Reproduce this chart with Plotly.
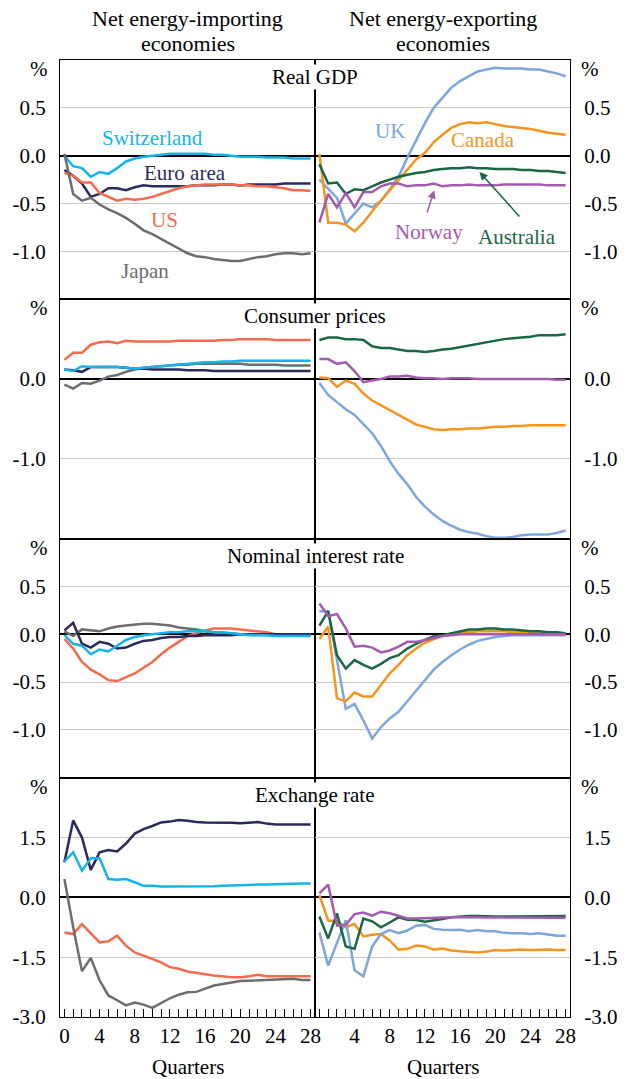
import plotly.graph_objects as go
from plotly.subplots import make_subplots

quarters = list(range(29))

# Real GDP
gdp_che = [0.0, -0.11, -0.13, -0.22, -0.17, -0.19, -0.13, -0.06, -0.03, -0.01, 0.0, 0.01, 0.02, 0.02, 0.02, 0.02, 0.02, 0.01, 0.01, 0.0, -0.01, -0.01, -0.01, -0.02, -0.02, -0.02, -0.03, -0.03, -0.03]
gdp_ea = [-0.15, -0.21, -0.29, -0.43, -0.40, -0.34, -0.34, -0.36, -0.33, -0.31, -0.32, -0.32, -0.32, -0.32, -0.32, -0.31, -0.31, -0.31, -0.30, -0.30, -0.31, -0.30, -0.30, -0.30, -0.30, -0.29, -0.29, -0.29, -0.29]
gdp_us = [-0.18, -0.21, -0.28, -0.28, -0.39, -0.43, -0.47, -0.45, -0.46, -0.45, -0.43, -0.40, -0.37, -0.34, -0.32, -0.31, -0.30, -0.30, -0.30, -0.30, -0.31, -0.31, -0.32, -0.32, -0.33, -0.34, -0.36, -0.36, -0.37]
gdp_jpn = [0.02, -0.40, -0.47, -0.44, -0.51, -0.56, -0.60, -0.65, -0.71, -0.78, -0.82, -0.87, -0.92, -0.97, -1.02, -1.05, -1.06, -1.08, -1.09, -1.10, -1.10, -1.08, -1.06, -1.05, -1.03, -1.02, -1.02, -1.03, -1.02]
gdp_uk = [-0.25, -0.35, -0.44, -0.71, -0.61, -0.50, -0.54, -0.47, -0.35, -0.22, -0.02, 0.16, 0.34, 0.50, 0.61, 0.71, 0.78, 0.83, 0.88, 0.90, 0.92, 0.91, 0.91, 0.91, 0.90, 0.90, 0.88, 0.86, 0.83]
gdp_can = [0.02, -0.70, -0.70, -0.72, -0.79, -0.70, -0.58, -0.47, -0.37, -0.26, -0.14, -0.04, 0.03, 0.14, 0.22, 0.29, 0.33, 0.35, 0.34, 0.35, 0.33, 0.31, 0.30, 0.29, 0.28, 0.26, 0.24, 0.23, 0.22]
gdp_aus = [-0.09, -0.29, -0.28, -0.40, -0.35, -0.36, -0.32, -0.28, -0.25, -0.22, -0.20, -0.18, -0.17, -0.15, -0.14, -0.13, -0.13, -0.12, -0.13, -0.13, -0.14, -0.14, -0.14, -0.15, -0.15, -0.16, -0.16, -0.17, -0.18]
gdp_nor = [-0.70, -0.40, -0.54, -0.39, -0.54, -0.38, -0.38, -0.32, -0.29, -0.29, -0.32, -0.31, -0.31, -0.29, -0.32, -0.31, -0.31, -0.30, -0.31, -0.31, -0.31, -0.30, -0.30, -0.30, -0.30, -0.30, -0.31, -0.31, -0.31]

# Consumer prices
cpi_us = [0.24, 0.33, 0.33, 0.43, 0.46, 0.47, 0.45, 0.48, 0.47, 0.47, 0.47, 0.47, 0.47, 0.48, 0.48, 0.48, 0.48, 0.48, 0.49, 0.49, 0.50, 0.50, 0.50, 0.50, 0.49, 0.49, 0.49, 0.49, 0.49]
cpi_che = [0.12, 0.10, 0.16, 0.15, 0.15, 0.15, 0.15, 0.14, 0.13, 0.14, 0.15, 0.16, 0.17, 0.18, 0.19, 0.20, 0.21, 0.21, 0.22, 0.22, 0.23, 0.23, 0.23, 0.23, 0.23, 0.23, 0.23, 0.23, 0.23]
cpi_ea = [0.12, 0.11, 0.09, 0.15, 0.15, 0.15, 0.15, 0.14, 0.13, 0.13, 0.12, 0.12, 0.12, 0.12, 0.11, 0.11, 0.11, 0.10, 0.10, 0.10, 0.10, 0.10, 0.10, 0.10, 0.10, 0.10, 0.10, 0.10, 0.10]
cpi_jpn = [-0.07, -0.12, -0.05, -0.06, -0.02, 0.03, 0.05, 0.09, 0.12, 0.14, 0.15, 0.16, 0.17, 0.18, 0.18, 0.19, 0.19, 0.19, 0.19, 0.19, 0.19, 0.18, 0.18, 0.18, 0.18, 0.17, 0.17, 0.17, 0.17]
cpi_aus = [0.49, 0.52, 0.52, 0.50, 0.50, 0.49, 0.41, 0.39, 0.39, 0.37, 0.35, 0.35, 0.34, 0.35, 0.37, 0.38, 0.40, 0.42, 0.44, 0.46, 0.48, 0.50, 0.51, 0.52, 0.53, 0.55, 0.55, 0.55, 0.56]
cpi_nor = [0.25, 0.25, 0.19, 0.21, 0.10, -0.04, -0.02, 0.00, 0.03, 0.03, 0.04, 0.02, 0.01, 0.01, 0.00, 0.01, 0.01, 0.01, 0.00, 0.00, 0.00, 0.00, 0.00, 0.00, 0.00, 0.00, 0.00, -0.01, -0.01]
cpi_can = [0.02, 0.01, -0.10, -0.02, -0.06, -0.18, -0.27, -0.33, -0.39, -0.45, -0.50, -0.57, -0.60, -0.63, -0.64, -0.63, -0.63, -0.62, -0.62, -0.61, -0.60, -0.60, -0.59, -0.59, -0.58, -0.58, -0.58, -0.58, -0.58]
cpi_uk = [-0.05, -0.20, -0.29, -0.38, -0.45, -0.57, -0.68, -0.84, -1.03, -1.19, -1.32, -1.48, -1.60, -1.70, -1.78, -1.84, -1.89, -1.92, -1.94, -1.97, -1.99, -1.99, -1.98, -1.96, -1.95, -1.95, -1.95, -1.93, -1.90]

# Nominal interest rate
ir_us = [-0.05, -0.15, -0.29, -0.37, -0.42, -0.48, -0.49, -0.45, -0.41, -0.35, -0.29, -0.21, -0.14, -0.08, -0.02, 0.01, 0.04, 0.06, 0.06, 0.06, 0.05, 0.04, 0.03, 0.02, 0.0, 0.0, 0.0, 0.0, 0.0]
ir_ea = [0.04, 0.12, -0.10, -0.14, -0.08, -0.10, -0.15, -0.14, -0.10, -0.07, -0.06, -0.04, -0.03, -0.03, -0.02, -0.02, -0.01, -0.01, -0.01, -0.01, 0.0, 0.0, 0.0, 0.0, 0.0, 0.0, 0.0, 0.0, 0.0]
ir_che = [-0.01, -0.10, -0.12, -0.21, -0.16, -0.18, -0.12, -0.06, -0.03, -0.01, 0.0, 0.01, 0.02, 0.02, 0.03, 0.03, 0.03, 0.02, 0.02, 0.01, 0.0, -0.01, -0.01, -0.01, -0.02, -0.02, -0.02, -0.02, -0.02]
ir_jpn = [0.03, -0.02, 0.05, 0.04, 0.03, 0.06, 0.08, 0.09, 0.10, 0.11, 0.11, 0.10, 0.09, 0.07, 0.06, 0.05, 0.03, 0.02, 0.01, 0.01, 0.0, 0.0, 0.0, 0.0, 0.0, 0.0, 0.0, 0.0, 0.0]
ir_nor = [0.32, 0.19, 0.21, 0.06, -0.13, -0.12, -0.14, -0.19, -0.17, -0.13, -0.08, -0.08, -0.06, -0.04, -0.02, -0.01, 0.0, 0.0, 0.0, 0.0, 0.0, 0.0, 0.0, 0.0, 0.0, 0.0, 0.0, 0.0, 0.0]
ir_aus = [0.09, 0.24, -0.22, -0.36, -0.27, -0.32, -0.36, -0.31, -0.25, -0.22, -0.15, -0.10, -0.06, -0.02, -0.01, 0.01, 0.03, 0.05, 0.05, 0.06, 0.06, 0.05, 0.05, 0.04, 0.03, 0.03, 0.02, 0.02, 0.01]
ir_can = [-0.05, 0.08, -0.67, -0.70, -0.61, -0.65, -0.65, -0.53, -0.41, -0.32, -0.22, -0.15, -0.09, -0.05, -0.02, 0.0, 0.02, 0.02, 0.03, 0.03, 0.03, 0.03, 0.02, 0.02, 0.01, 0.01, 0.0, 0.0, 0.0]
ir_uk = [0.24, 0.24, -0.27, -0.78, -0.73, -0.90, -1.09, -0.97, -0.88, -0.81, -0.70, -0.59, -0.47, -0.37, -0.29, -0.22, -0.16, -0.11, -0.07, -0.05, -0.03, -0.02, -0.01, -0.01, -0.01, -0.01, -0.01, -0.01, -0.01]

# Exchange rate
fx_ea = [0.88, 1.93, 1.50, 0.69, 1.13, 1.19, 1.15, 1.35, 1.60, 1.71, 1.79, 1.88, 1.90, 1.94, 1.92, 1.89, 1.88, 1.88, 1.88, 1.87, 1.86, 1.87, 1.89, 1.85, 1.83, 1.83, 1.83, 1.83, 1.83]
fx_che = [0.90, 1.13, 0.67, 0.98, 0.98, 0.46, 0.44, 0.46, 0.38, 0.29, 0.29, 0.27, 0.27, 0.27, 0.28, 0.28, 0.28, 0.28, 0.29, 0.30, 0.31, 0.31, 0.32, 0.32, 0.33, 0.34, 0.35, 0.35, 0.35]
fx_us = [-0.88, -0.92, -0.67, -0.89, -1.13, -1.10, -0.96, -1.21, -1.38, -1.46, -1.54, -1.63, -1.75, -1.79, -1.86, -1.90, -1.93, -1.96, -1.98, -2.00, -2.00, -1.98, -1.94, -1.98, -1.98, -1.98, -1.97, -1.97, -1.98]
fx_jpn = [0.46, -0.75, -1.85, -1.52, -2.08, -2.46, -2.58, -2.71, -2.64, -2.69, -2.77, -2.64, -2.53, -2.44, -2.38, -2.37, -2.28, -2.21, -2.17, -2.13, -2.10, -2.09, -2.08, -2.07, -2.06, -2.05, -2.04, -2.07, -2.07]
fx_nor = [0.10, 0.32, -0.71, -0.69, -0.42, -0.38, -0.46, -0.36, -0.40, -0.46, -0.53, -0.53, -0.52, -0.51, -0.50, -0.50, -0.50, -0.50, -0.50, -0.50, -0.50, -0.50, -0.50, -0.50, -0.50, -0.50, -0.50, -0.51, -0.52]
fx_aus = [-0.48, -1.03, -0.40, -1.23, -1.29, -0.53, -0.60, -0.75, -0.63, -0.50, -0.56, -0.57, -0.61, -0.58, -0.54, -0.50, -0.48, -0.47, -0.47, -0.48, -0.48, -0.48, -0.48, -0.48, -0.48, -0.48, -0.48, -0.47, -0.47]
fx_can = [0.06, -0.58, -0.60, -0.75, -0.67, -0.98, -0.94, -0.92, -1.08, -1.31, -1.29, -1.21, -1.23, -1.31, -1.28, -1.33, -1.35, -1.36, -1.38, -1.36, -1.32, -1.33, -1.32, -1.31, -1.32, -1.31, -1.31, -1.32, -1.32]
fx_uk = [-0.88, -1.71, -1.14, -0.57, -1.83, -1.98, -1.23, -0.92, -0.82, -0.90, -0.83, -0.71, -0.69, -0.79, -0.81, -0.82, -0.81, -0.85, -0.82, -0.85, -0.85, -0.89, -0.90, -0.90, -0.92, -0.90, -0.93, -0.96, -0.96]

panel_titles = ["Real GDP", "Consumer prices", "Nominal interest rate", "Exchange rate"]
y_ranges = [[-1.5, 1.0], [-2.0, 1.0], [-1.5, 1.0], [-3.0, 3.0]]
y_ticks = [[0.5, 0.0, -0.5, -1.0], [0.0, -1.0], [0.5, 0.0, -0.5, -1.0], [1.5, 0.0, -1.5, -3.0]]

colors = {
    "Switzerland": "#14B4E9",
    "Euro area": "#2B2A5E",
    "US": "#F26B4F",
    "Japan": "#6D6D6D",
    "UK": "#7EA6DA",
    "Canada": "#F7941E",
    "Norway": "#A35BAF",
    "Australia": "#1B6645",
}

left = [
    {"Switzerland": gdp_che, "Euro area": gdp_ea, "US": gdp_us, "Japan": gdp_jpn},
    {"Japan": cpi_jpn, "Euro area": cpi_ea, "Switzerland": cpi_che, "US": cpi_us},
    {"Japan": ir_jpn, "US": ir_us, "Euro area": ir_ea, "Switzerland": ir_che},
    {"Euro area": fx_ea, "Switzerland": fx_che, "US": fx_us, "Japan": fx_jpn},
]
right = [
    {"UK": gdp_uk, "Canada": gdp_can, "Australia": gdp_aus, "Norway": gdp_nor},
    {"Australia": cpi_aus, "Norway": cpi_nor, "Canada": cpi_can, "UK": cpi_uk},
    {"UK": ir_uk, "Canada": ir_can, "Australia": ir_aus, "Norway": ir_nor},
    {"Canada": fx_can, "UK": fx_uk, "Australia": fx_aus, "Norway": fx_nor},
]

FONT = "Liberation Serif, Times New Roman, serif"

fig = make_subplots(rows=4, cols=2, horizontal_spacing=0, vertical_spacing=0)

for r in range(4):
    for c, group in enumerate([left[r], right[r]]):
        for name, vals in group.items():
            fig.add_trace(
                go.Scatter(x=quarters, y=vals, mode="lines", name=name,
                           line=dict(color=colors[name], width=2.5),
                           showlegend=False, hoverinfo="skip"),
                row=r + 1, col=c + 1,
            )

for r in range(4):
    for c in range(2):
        bottom = r == 3
        if bottom:
            ttext = [str(q) if q % 4 == 0 and not (c == 1 and q == 0) else "" for q in quarters]
        else:
            ttext = ["" for q in quarters]
        fig.update_xaxes(
            range=[-0.5, 28.5], tickvals=quarters, ticktext=ttext,
            showticklabels=bottom, ticks="inside" if bottom else "", ticklen=8,
            tickcolor="black", tickwidth=1.3,
            showgrid=False, zeroline=False,
            showline=True, linecolor="black", linewidth=1.3, mirror=True,
            row=r + 1, col=c + 1,
        )
        fig.update_yaxes(
            range=y_ranges[r], tickvals=y_ticks[r],
            ticktext=[f"{v:.1f}" for v in y_ticks[r]],
            side="left" if c == 0 else "right",
            ticks="", ticklabelstandoff=9,
            showgrid=True, gridcolor="#C8C8C8", gridwidth=1,
            zeroline=True, zerolinecolor="black", zerolinewidth=1.5,
            showline=True, linecolor="black", linewidth=1.3, mirror=True,
            row=r + 1, col=c + 1,
        )

ann = []
for r in range(4):
    yref = "y%d domain" % (2 * r + 1) if r > 0 else "y domain"
    # white box hides the divider behind the panel title
    ann.append(dict(text=panel_titles[r], xref="paper", yref=yref, x=0.5, y=1,
                    xanchor="center", yanchor="middle", yshift=-17, showarrow=False,
                    bgcolor="white", borderpad=0))
    ann.append(dict(text="%", xref="paper", yref=yref, x=0, y=1, xshift=-21,
                    xanchor="center", yanchor="middle", yshift=-9, showarrow=False))
    ann.append(dict(text="%", xref="paper", yref=yref, x=1, y=1, xshift=20,
                    xanchor="center", yanchor="middle", yshift=-9, showarrow=False))

for x, line1, line2 in [(0.25, "Net energy-importing", "economies"),
                        (0.75, "Net energy-exporting", "economies")]:
    ann.append(dict(text=line1, xref="paper", yref="paper", x=x, y=1, yshift=42,
                    xanchor="center", yanchor="middle", showarrow=False, font=dict(size=22)))
    ann.append(dict(text=line2, xref="paper", yref="paper", x=x, y=1, yshift=17,
                    xanchor="center", yanchor="middle", showarrow=False, font=dict(size=22)))
    ann.append(dict(text="Quarters", xref="paper", yref="paper", x=x, y=0, yshift=-50,
                    xanchor="center", yanchor="middle", showarrow=False))

# series labels in the Real GDP panels
labels = [
    ("Switzerland", "x", "y", 10.0, 0.19),
    ("Euro area", "x", "y", 13.7, -0.18),
    ("US", "x", "y", 11.4, -0.67),
    ("Japan", "x", "y", 9.2, -1.20),
    ("UK", "x2", "y2", 8.0, 0.26),
    ("Canada", "x2", "y2", 18.6, 0.16),
    ("Norway", "x2", "y2", 12.5, -0.80),
    ("Australia", "x2", "y2", 22.5, -0.85),
]
for name, xr, yr, x, y in labels:
    ann.append(dict(text=name, xref=xr, yref=yr, x=x, y=y, showarrow=False,
                    xanchor="center", yanchor="middle",
                    font=dict(color=colors[name])))

ann.append(dict(text="", xref="x2", yref="y2", x=13.05, y=-0.36,
                axref="x2", ayref="y2", ax=12.2, ay=-0.61, showarrow=True,
                arrowhead=2, arrowsize=1.1, arrowwidth=1.5, arrowcolor=colors["Norway"]))
ann.append(dict(text="", xref="x2", yref="y2", x=18.2, y=-0.17,
                axref="x2", ayref="y2", ax=22.9, ay=-0.65, showarrow=True,
                arrowhead=2, arrowsize=1.1, arrowwidth=1.5, arrowcolor=colors["Australia"]))

fig.update_layout(
    width=630, height=1079,
    margin=dict(l=53, r=47, t=60, b=62),
    paper_bgcolor="white", plot_bgcolor="white",
    font=dict(family=FONT, size=21, color="black"),
    annotations=ann,
)

fig.write_html("out.html", config={"displayModeBar": False},
               post_script="document.body.style.margin='0px';")
